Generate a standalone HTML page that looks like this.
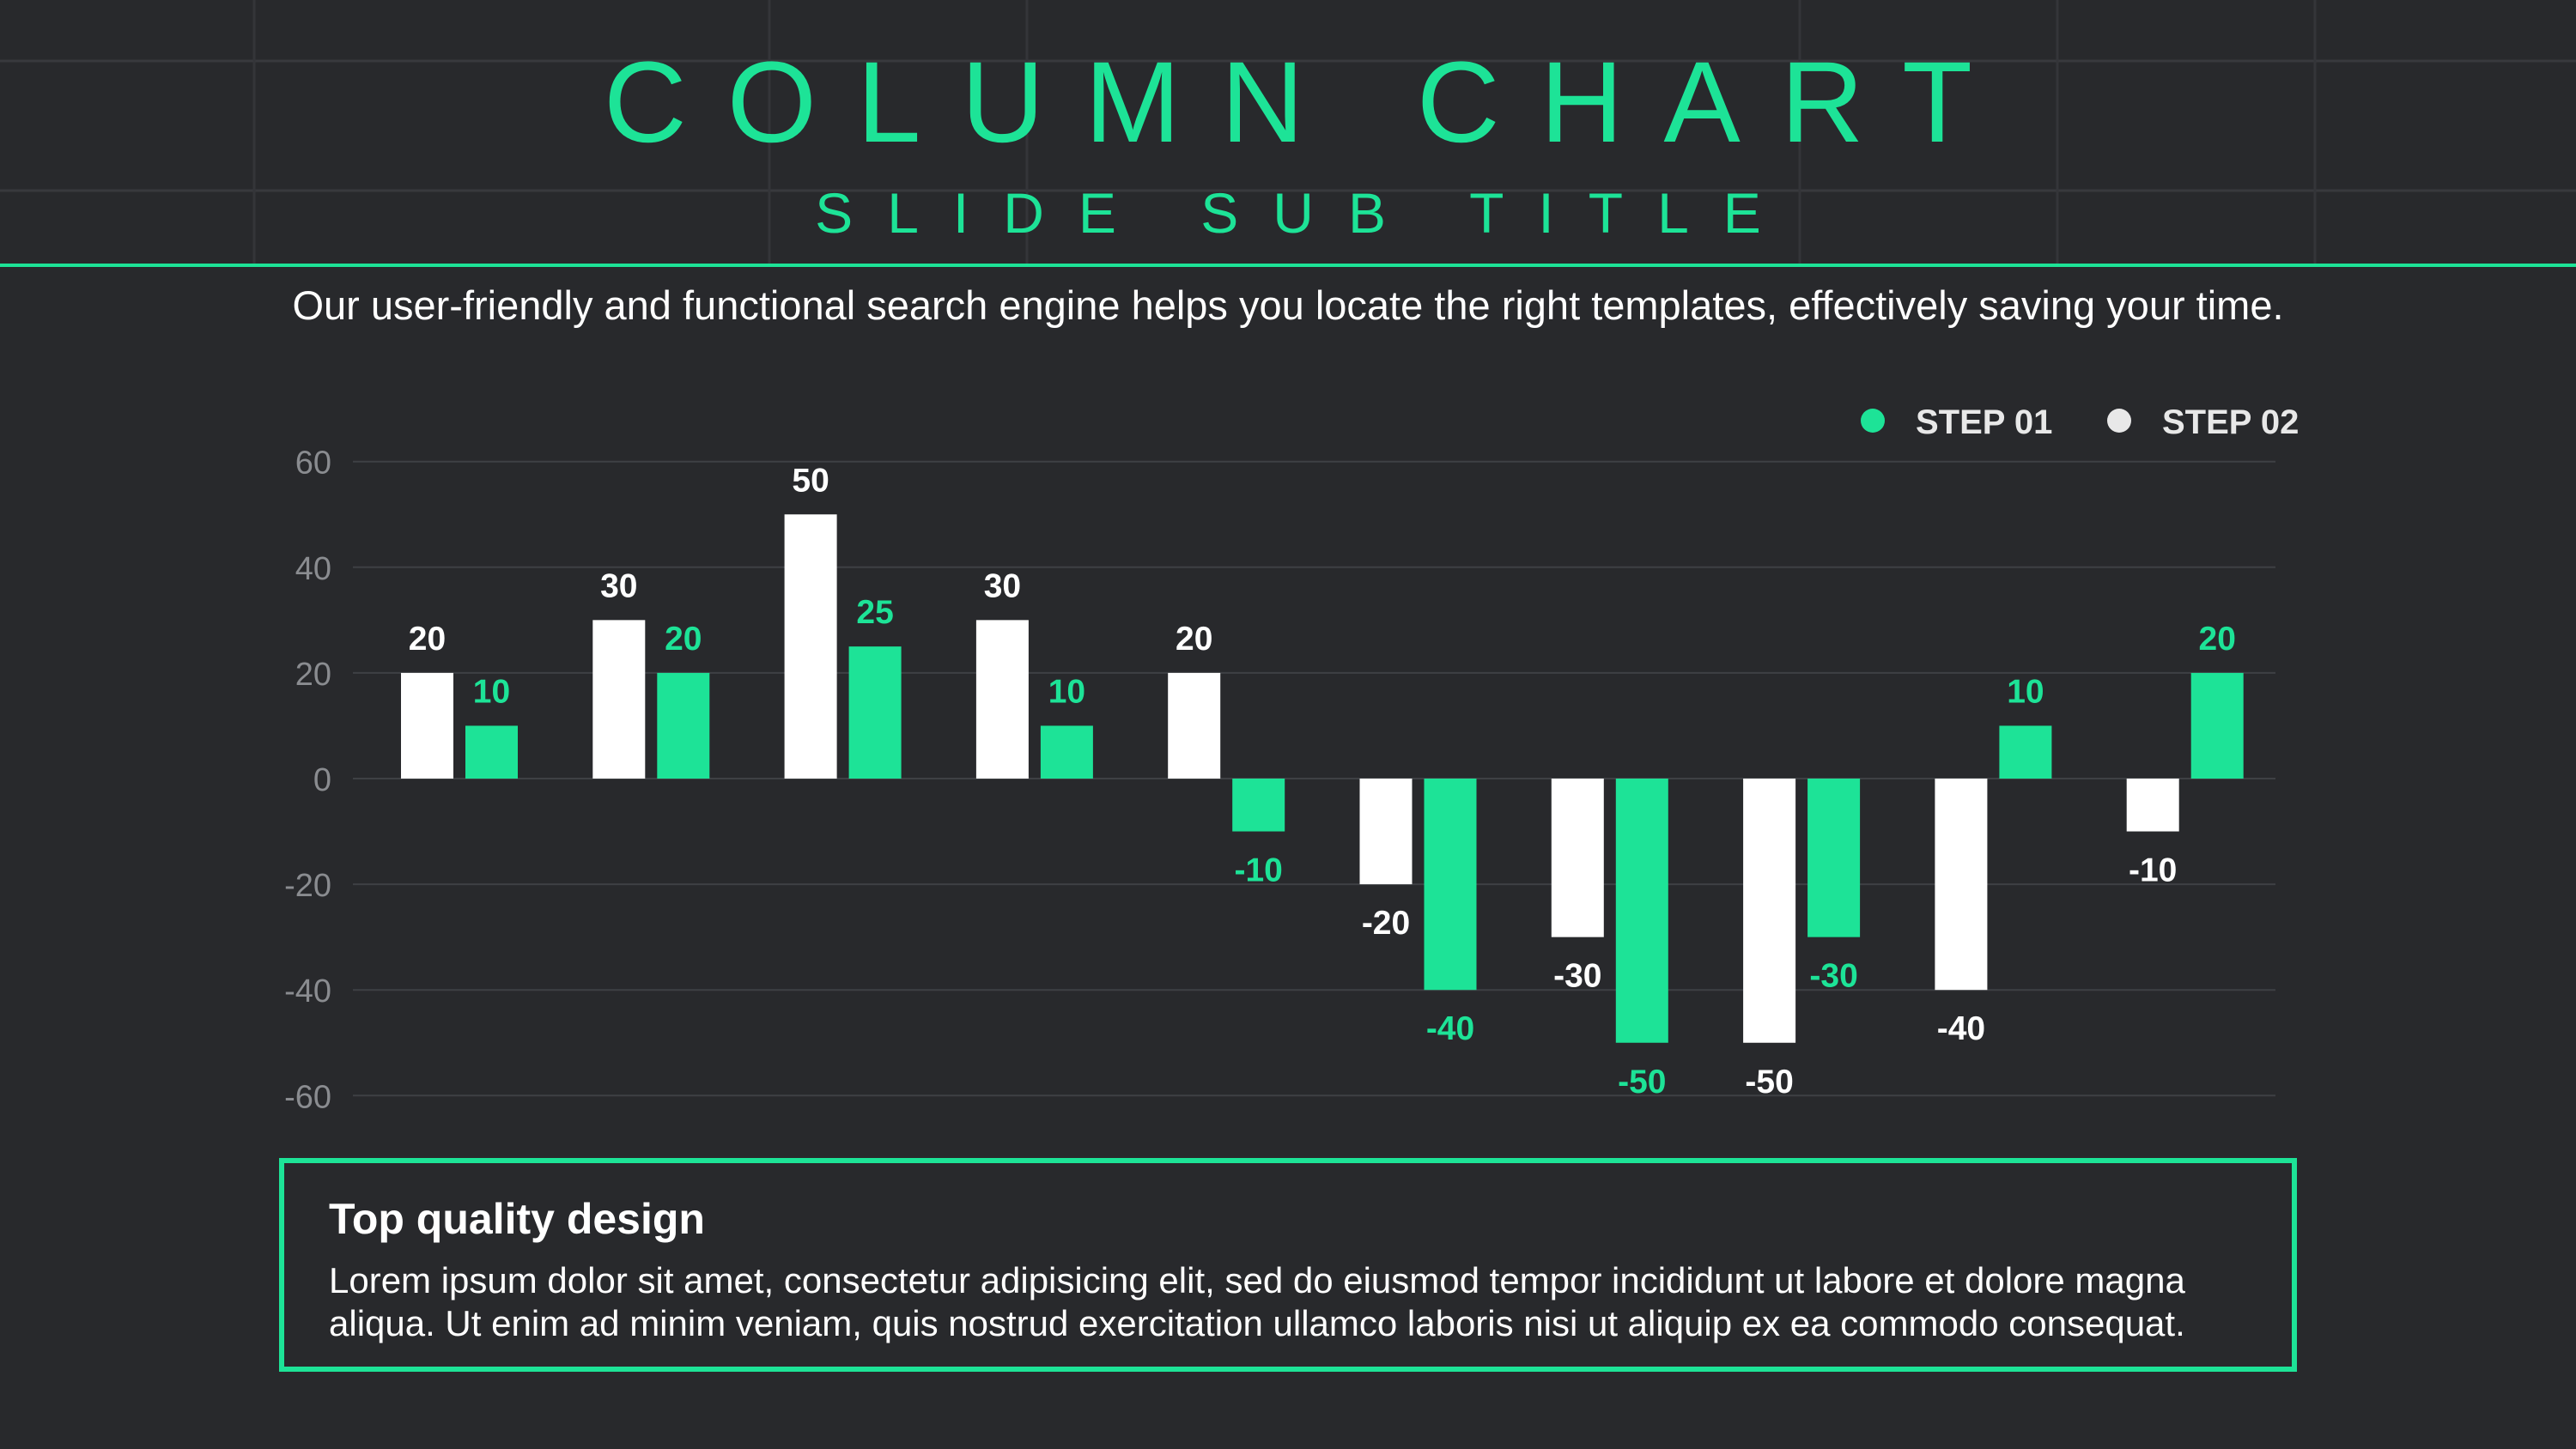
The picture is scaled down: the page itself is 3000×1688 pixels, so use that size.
<!DOCTYPE html>
<html><head><meta charset="utf-8">
<style>
html,body{margin:0;padding:0}
body{width:3000px;height:1688px;background:#28292c;position:relative;overflow:hidden;font-family:"Liberation Sans",sans-serif}
.abs{position:absolute}
#title{left:0;width:3000px;top:40px;text-align:center;color:#1de397;font-size:134px;letter-spacing:47px;text-indent:47px;line-height:160px}
#subtitle{left:0;width:3000px;top:208px;text-align:center;color:#1de397;font-size:66px;letter-spacing:40px;text-indent:40px;line-height:80px}
#rule{left:0;top:307px;width:3000px;height:4px;background:#1de397}
#desc{left:0;width:3000px;top:328px;text-align:center;color:#fff;font-size:47px;line-height:56px}
#box{left:325px;top:1349px;width:2338px;height:237px;border:6px solid #1de397}
#box h3{margin:0;position:absolute;left:52px;top:36px;color:#fff;font-size:50px;font-weight:bold}
#box p{margin:0;position:absolute;left:52px;top:112px;color:#fff;font-size:42px;line-height:50px;width:2235px}
</style></head>
<body>
<svg class="abs" style="left:0;top:0" width="3000" height="1688">
<g id="bggrid"></g>
<g id="grid"></g>
<g id="yaxis"></g>
<g id="bars"></g>
<g>
<circle cx="2181" cy="490" r="14" fill="#1de397"/>
<text x="2231" y="505" fill="#e8e8e8" font-size="40" font-weight="bold">STEP 01</text>
<circle cx="2468" cy="490" r="14" fill="#e8e8e8"/>
<text x="2518" y="505" fill="#e8e8e8" font-size="40" font-weight="bold">STEP 02</text>
</g>
</svg>
<div id="title" class="abs">COLUMN CHART</div>
<div id="subtitle" class="abs">SLIDE SUB TITLE</div>
<div id="rule" class="abs"></div>
<div id="desc" class="abs">Our user-friendly and functional search engine helps you locate the right templates, effectively saving your time.</div>
<div id="box" class="abs">
<h3>Top quality design</h3>
<p>Lorem ipsum dolor sit amet, consectetur adipisicing elit, sed do eiusmod tempor incididunt ut labore et dolore magna aliqua. Ut enim ad minim veniam, quis nostrud exercitation ullamco laboris nisi ut aliquip ex ea commodo consequat.</p>
</div>
<script>
const categories = ["G1","G2","G3","G4","G5","G6","G7","G8","G9","G10"];
const step02 = [20,30,50,30,20,-20,-30,-50,-40,-10];
const step01 = [10,20,25,10,-10,-40,-50,-30,10,20];
const yTicks = [60,40,20,0,-20,-40,-60];
const NS="http://www.w3.org/2000/svg";
const X0=411,X1=2650,Y0=907,PX=6.155;
function y(v){return Y0-v*PX;}
function gx(i){return 467+i*223.3;}
const BW=61, GOFF=75;
function mk(tag,attrs,parent,txt){const e=document.createElementNS(NS,tag);for(const k in attrs)e.setAttribute(k,attrs[k]);if(txt!==undefined)e.textContent=txt;parent.appendChild(e);return e;}
const bg=document.getElementById('bggrid');
[71,222].forEach(yy=>{mk('line',{x1:0,x2:3000,y1:yy,y2:yy,stroke:'#38393d','stroke-width':3},bg);});
[296,896,1196,2096,2396,2696].forEach(xx=>{mk('line',{x1:xx,x2:xx,y1:0,y2:308,stroke:'#343539','stroke-width':3},bg);});
const grid=document.getElementById('grid'),ya=document.getElementById('yaxis');
yTicks.forEach(t=>{
 const l=mk('line',{x1:X0,x2:X1,y1:y(t),y2:y(t),stroke:'#3e4044','stroke-width':2},grid);
 
 
 const tx=mk('text',{x:386,y:y(t)+14,fill:'#8a8c90','font-size':38,'text-anchor':'end'},ya,String(t));
 
 
});
const bars=document.getElementById('bars');
function bar(x,v,col,name){
 const top=Math.min(y(v),Y0),h=Math.abs(y(v)-Y0);
 const r=mk('rect',{x:x,y:top,width:BW,height:h,fill:col},bars);
 
 
 const ly=v>=0?y(v)-27:y(v)+58;
 const t=mk('text',{x:x+BW/2,y:ly,fill:col,'font-size':39,'font-weight':'bold','text-anchor':'middle'},bars,String(v));
 
 
}
categories.forEach((c,i)=>{
 bar(gx(i),step02[i],'#ffffff','bar-step02');
 bar(gx(i)+GOFF,step01[i],'#1de397','bar-step01');
});
</script>
</body></html>
